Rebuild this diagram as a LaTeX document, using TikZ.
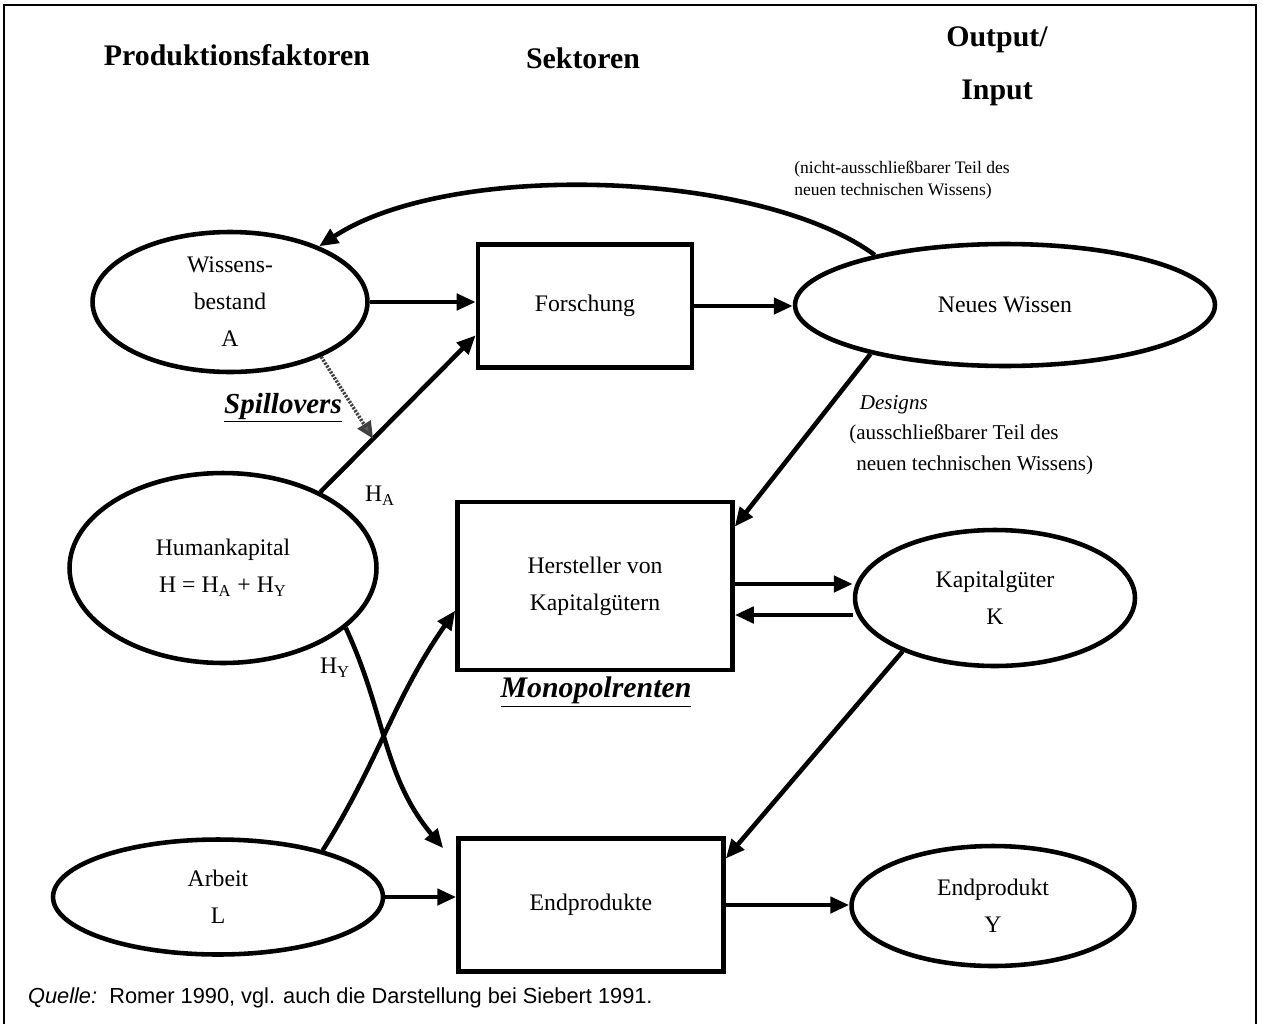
\documentclass[tikz,border=0pt]{standalone}
\usepackage{fontspec}
\setmainfont{Liberation Serif}
\newfontfamily\quellfont{Liberation Sans}
\usetikzlibrary{shapes.geometric,arrows.meta}

\begin{document}
\begin{tikzpicture}[x=0.02cm,y=-0.02cm,line width=2.6pt]
    \tikzstyle{faktor}=[ellipse,draw=black,fill=white,inner sep=0pt,align=center,font=\fontsize{13.5}{21}\selectfont]
    \tikzstyle{sektor}=[rectangle,draw=black,fill=white,inner sep=0pt,align=center,font=\fontsize{13.5}{21}\selectfont]
    \tikzstyle{pfeil}=[-{Triangle[length=0.38cm,width=0.32cm]}]
    \tikzstyle{kopf}=[font=\fontsize{17}{20}\selectfont\bfseries]
    \tikzstyle{notiz}=[align=left,inner sep=0pt,font=\fontsize{12}{17.5}\selectfont]
    \useasboundingbox (0,0) rectangle (1263,1024);
    \draw[line width=1pt] (4,1024) -- (4,5) -- (1256,5) -- (1256,1024);

    % Spaltenkoepfe
    \node[kopf] (prod) at (237,55) {Produktionsfaktoren};
    \node[kopf] (sekt) at (583,58) {Sektoren};
    \node[kopf] (outp) at (997,40) {Output/};
    \node[kopf] (inp) at (997,93) {Input};

    \foreach \name/\x/\y/\breite/\hoehe/\txt in {wissen/230/302/5.5/2.8/{Wissens-\\bestand\\A},
            neu/1005/305/8.4/2.44/{Neues Wissen},
            human/223/568/6.14/3.8/{Humankapital\\H = H\textsubscript{A} + H\textsubscript{Y}},
            kapital/995/598/5.6/2.72/{Kapitalgüter\\K},
            arbeit/218/897/6.6/2.3/{Arbeit\\L},
            endprod/993/906/5.66/2.4/{Endprodukt\\Y}}
        \node[faktor,minimum width=\breite cm,minimum height=\hoehe cm] (\name) at (\x,\y) {\txt};

    \foreach \name/\x/\y/\breite/\hoehe/\txt in {forsch/585/306/4.28/2.46/{Forschung},
            herst/595/586/5.5/3.36/{Hersteller von\\Kapitalgütern},
            endpr/591/905/5.3/2.66/{Endprodukte}}
        \node[sektor,minimum width=\breite cm,minimum height=\hoehe cm] (\name) at (\x,\y) {\txt};

    % gerade Pfeile
    \draw[pfeil] (wissen.east) -- (wissen.east -| forsch.west);
    \draw[pfeil] (forsch.east) -- (forsch.east -| neu.west);
    \draw[pfeil] ([yshift=0.04cm]herst.east) -- ([yshift=0.04cm]herst.east -| kapital.west);
    \draw[pfeil] ([yshift=-0.34cm]kapital.west) -- ([yshift=-0.34cm]kapital.west -| herst.east);
    \draw[pfeil] (arbeit.east) -- (arbeit.east -| endpr.west);
    \draw[pfeil] (endpr.east) -- (endpr.east -| endprod.west);
    \draw[pfeil] (neu.200) -- (herst.23);
    \draw[pfeil] (kapital.210) -- (endpr.19);

    % Humankapital und Arbeit
    \draw[pfeil] (human.38) -- coordinate[pos=0.34] (ha) (forsch.195);
    \draw[pfeil] (human.334) to[out=-65,in=130] ([xshift=-0.26cm,yshift=-0.24cm]endpr.north west);
    \draw[pfeil] (arbeit.24) to[out=58,in=235] (herst.190);
    \draw[-{Triangle[length=0.34cm,width=0.3cm,fill=black!65]},draw=black!75,line width=2pt,dash pattern=on 1.2pt off 0.8pt] (wissen.329) -- (ha);

    % Rueckfluss des Wissens
    \draw[pfeil] (neu.159) .. controls (760,170) and (450,160) .. (wissen.32);

    \node[font=\fontsize{13.5}{14}\selectfont] (hA) at (380,496) {H\textsubscript{A}};
    \node[font=\fontsize{13.5}{14}\selectfont] (hY) at (335,668) {H\textsubscript{Y}};
    \node[font=\fontsize{16.5}{18}\selectfont\bfseries\itshape] (spill) at (283,408) {\underline{Spillovers}};
    \node[font=\fontsize{17}{18}\selectfont\bfseries\itshape] (mono) at (596,692) {\underline{Monopolrenten}};
    \node[notiz,anchor=north west,font=\fontsize{10}{12.5}\selectfont] (nicht) at (792,159) {(nicht-ausschließbarer Teil des\\neuen technischen Wissens)};
    \node[notiz,anchor=north west] (design) at (847,393) {\hspace{6pt}\textit{Designs}\\(ausschließbarer Teil des\\\hspace{4pt}neuen technischen Wissens)};

    \node[anchor=west,font=\quellfont\fontsize{12.4}{14}\selectfont] (quelle) at (20,998) {\textit{Quelle:}\ \ Romer 1990, vgl. auch die Darstellung bei Siebert 1991.};
\end{tikzpicture}
\end{document}
